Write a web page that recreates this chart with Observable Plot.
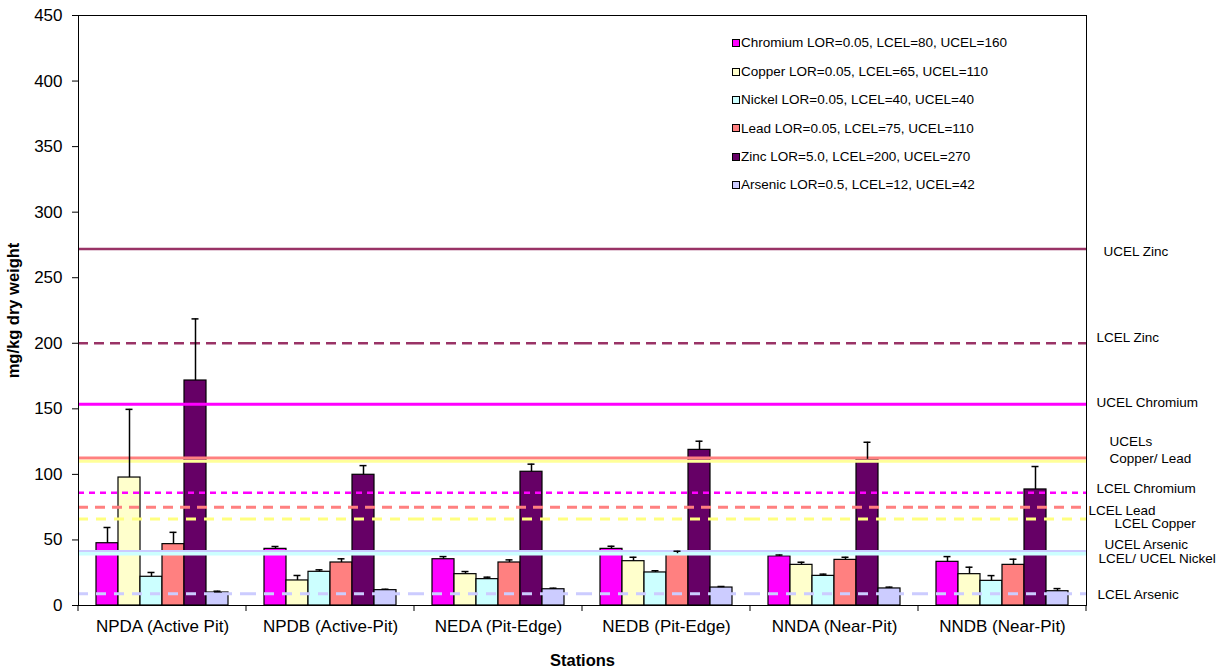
<!DOCTYPE html>
<html>
<head>
<meta charset="utf-8">
<script src="https://cdn.jsdelivr.net/npm/d3@7"></script>
<script src="https://cdn.jsdelivr.net/npm/@observablehq/plot@0.6"></script>
<style>
  body { margin: 0; background: #fff; font-family: "Liberation Sans", Arial, sans-serif; }
  #wrap { position: relative; width: 1229px; height: 670px; }
  #legend { position: absolute; left: 732px; top: 29px; font-size: 13.5px; color: #000; line-height: 1; }
  #legend .row { height: 28.4px; display: flex; align-items: center; white-space: nowrap; }
  #legend .sw { width: 6px; height: 6px; border: 1px solid #000; margin-right: 1px; }
  svg g[aria-label="y-axis label"] text, svg g[aria-label="fx-axis label"] text { font-weight: bold; font-size: 16.5px; }
</style>
</head>
<body>
<div id="wrap"><div id="legend"></div></div>
<script>
// ---- data ----
const stations = ["NPDA (Active Pit)", "NPDB (Active-Pit)", "NEDA (Pit-Edge)", "NEDB (Pit-Edge)", "NNDA (Near-Pit)", "NNDB (Near-Pit)"];
const metals = ["Chromium", "Copper", "Nickel", "Lead", "Zinc", "Arsenic"];
const legendLabels = [
  "Chromium LOR=0.05, LCEL=80, UCEL=160",
  "Copper LOR=0.05, LCEL=65, UCEL=110",
  "Nickel LOR=0.05, LCEL=40, UCEL=40",
  "Lead LOR=0.05, LCEL=75, UCEL=110",
  "Zinc LOR=5.0, LCEL=200, UCEL=270",
  "Arsenic LOR=0.5, LCEL=12, UCEL=42"
];
const chromium    = [47.5, 43.2, 35.3, 43.2, 37.5, 33.3];
const chromiumErr = [12, 1.8, 2, 2, 1, 4];
const copper      = [97.6, 19.1, 23.9, 33.8, 31, 23.9];
const copperErr   = [52, 3.8, 2, 3, 2, 5.3];
const nickel      = [21.9, 25.7, 20.1, 25.2, 22.6, 18.8];
const nickelErr   = [3.3, 1.5, 1.5, 1.3, 1.3, 4];
const lead        = [46.8, 32.8, 32.8, 39.5, 34.8, 31];
const leadErr     = [9, 2.8, 2, 1.9, 2, 4.3];
const zinc        = [171.6, 99.7, 102, 118.7, 111.5, 88.5];
const zincErr     = [47, 7, 5.8, 6.6, 13, 17.5];
const arsenic     = [9.9, 11.7, 12.4, 13.7, 13, 10.9];
const arsenicErr  = [1, 0.7, 0.8, 0.8, 1, 2];
const yTicks = [0, 50, 100, 150, 200, 250, 300, 350, 400, 450];

const thresholdNames  = ["UCEL Zinc", "LCEL Zinc", "UCEL Chromium", "UCEL Lead", "UCEL Copper", "LCEL Chromium", "LCEL Lead", "LCEL Copper", "UCEL Arsenic", "LCEL/UCEL Nickel", "LCEL Arsenic"];
const thresholdValues = [272, 200, 153.5, 112.5, 110, 86, 75, 66, 41, 39.5, 9];

const labelTexts  = ["UCEL Zinc", "LCEL Zinc", "UCEL Chromium", "UCELs", "Copper/ Lead", "LCEL Chromium", "LCEL Lead", "LCEL Copper", "UCEL Arsenic", "LCEL/ UCEL Nickel", "LCEL Arsenic"];
const labelValues = [270, 204.4, 154.8, 125, 112, 89.2, 72.5, 62.5, 46.5, 35.8, 8.4];

// ---- styles ----
const metalColors = ["#FF00FF", "#FFFFCC", "#CCFFFF", "#FF8080", "#660066", "#CCCCFF"];
const thresholdStyles = [
  {stroke: "#993366", width: 2.5, dash: null},
  {stroke: "#993366", width: 2.5, dash: "10,6"},
  {stroke: "#FF00FF", width: 3, dash: null},
  {stroke: "#FF8080", width: 3, dash: null},
  {stroke: "#FFFF99", width: 3, dash: null},
  {stroke: "#FF00FF", width: 2.5, dash: "6,5"},
  {stroke: "#FF8080", width: 3, dash: "10,7"},
  {stroke: "#FFFF80", width: 3, dash: "10,8"},
  {stroke: "#CCCCFF", width: 3.5, dash: null},
  {stroke: "#CCFFFF", width: 3.5, dash: null},
  {stroke: "#CCCCFF", width: 3, dash: "10,8"}
];
const labelDx = [17, 10, 10, 23, 23, 10, 2, 28, 18, 12, 11];

// ---- build table ----
const series = [chromium, copper, nickel, lead, zinc, arsenic];
const errs = [chromiumErr, copperErr, nickelErr, leadErr, zincErr, arsenicErr];
const rows = [];
stations.forEach((s, i) => metals.forEach((m, j) => rows.push({station: s, metal: m, value: series[j][i], err: errs[j][i]})));
const lastStation = stations[stations.length - 1];

const marks = [
  Plot.barY(rows, {fx: "station", x: "metal", y: "value", fill: "metal", stroke: "#000", strokeWidth: 1.2})
];
thresholdValues.forEach((v, k) => {
  const st = thresholdStyles[k];
  marks.push(Plot.ruleY([v], {stroke: st.stroke, strokeWidth: st.width, strokeDasharray: st.dash ?? undefined, title: () => thresholdNames[k]}));
});
marks.push(
  Plot.ruleX(rows, {fx: "station", x: "metal", y1: "value", y2: d => d.value + d.err, stroke: "#000", strokeWidth: 1.5}),
  Plot.tickY(rows, {fx: "station", x: "metal", y: d => d.value + d.err, stroke: "#000", strokeWidth: 1.5, insetLeft: 7.5, insetRight: 7.5})
);
labelTexts.forEach((t, k) => {
  marks.push(Plot.text([{station: lastStation, v: labelValues[k], t}], {
    fx: "station", y: "v", text: "t", frameAnchor: "right", textAnchor: "start", dx: labelDx[k], fontSize: 13.5, fill: "#000"
  }));
});
marks.push(Plot.frame({facet: "super", stroke: "#000", strokeWidth: 1}));

const chart = Plot.plot({
  width: 1229, height: 670,
  marginLeft: 78, marginRight: 143, marginTop: 15, marginBottom: 65,
  style: {fontFamily: '"Liberation Sans", Arial, sans-serif', fontSize: "17px", color: "#000", background: "#fff"},
  fx: {domain: stations, padding: 0, label: "Stations", axis: "bottom", tickSize: 0, tickPadding: 14, labelAnchor: "center", labelOffset: 60},
  x: {domain: metals, paddingInner: 0, paddingOuter: 0.733, axis: null},
  y: {domain: [0, 450], ticks: yTicks, tickSize: 6, tickPadding: 10, label: "mg/kg dry weight", labelAnchor: "center", labelOffset: 71, labelArrow: false},
  color: {domain: metals, range: metalColors},
  marks
});

// boundary ticks on the category axis, from the plot's own fx and y scales
const fxs = chart.scale("fx");
const ys = chart.scale("y");
const y0 = ys.apply(0);
const bounds = stations.map(s => fxs.apply(s)).concat([fxs.apply(lastStation) + fxs.bandwidth]);
d3.select(chart).append("g").attr("aria-label", "category boundary ticks")
  .selectAll("line").data(bounds).join("line")
  .attr("x1", d => d).attr("x2", d => d).attr("y1", y0).attr("y2", y0 + 6)
  .attr("stroke", "#000");

document.getElementById("wrap").prepend(chart);

// legend
const legend = d3.select("#legend");
legendLabels.forEach((t, k) => {
  const row = legend.append("div").attr("class", "row");
  row.append("div").attr("class", "sw").style("background", metalColors[k]);
  row.append("span").text(t);
});
</script>
</body>
</html>
